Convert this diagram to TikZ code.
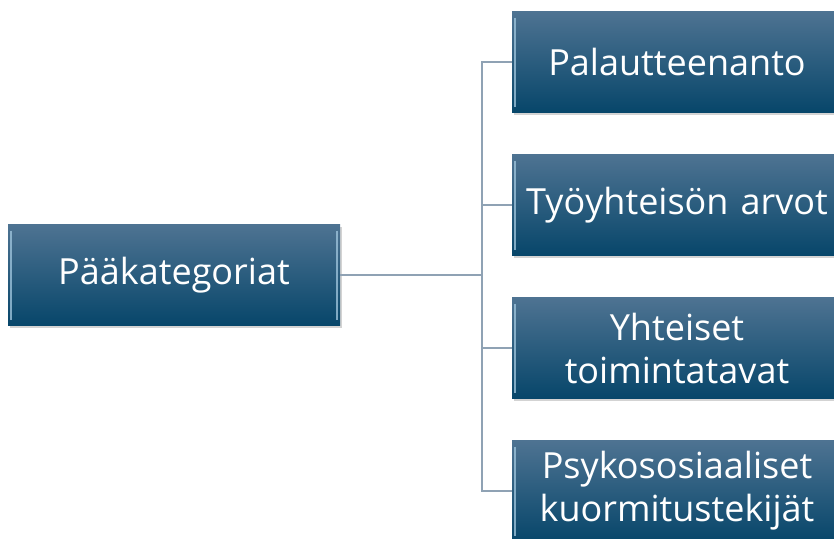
\documentclass[tikz,border=0pt]{standalone}
\usepackage{fontspec}
\setmainfont{Open Sans}
\usepackage{xcolor}
\usetikzlibrary{positioning, shadows}

\definecolor{boxtop}{HTML}{4E7392}
\definecolor{boxbot}{HTML}{07466A}
\definecolor{linkcol}{HTML}{8FA2B4}
\definecolor{edgelite}{HTML}{9CC2DA}

\begin{document}
\begin{tikzpicture}[x=1pt, y=-1pt,
    catbox/.style={minimum height=101pt, inner sep=0pt, align=center,
                   text=white, font=\fontsize{36}{43}\selectfont,
                   top color=boxtop, bottom color=boxbot, draw=none,
                   drop shadow={shadow xshift=1.5pt, shadow yshift=-2pt, opacity=.35},
                   path picture={
                     \draw[edgelite, line width=1.4pt, opacity=.8]
                       ([xshift=3pt,yshift=-6pt]path picture bounding box.north west) --
                       ([xshift=3pt,yshift=6pt]path picture bounding box.south west);
                     \draw[edgelite, line width=1.4pt, opacity=.8]
                       ([xshift=-3pt,yshift=-6pt]path picture bounding box.north east) --
                       ([xshift=-3pt,yshift=6pt]path picture bounding box.south east);}},
    subbox/.style={catbox, minimum width=330pt, text width=326pt},
    link/.style={draw=linkcol, line width=1.4pt}]
\useasboundingbox (0,0) rectangle (834,538);
\clip (0,0) rectangle (834,538);

% main category
\node[catbox, minimum width=332pt] (main) at (174,275) {Pääkategoriat};

% sub categories
\node[subbox] (pal) at (677,62) {Palautteenanto};
\node[subbox] (arv) at (677,205) {Työyhteisön arvot};
\node[subbox] (tap) at (677,348) {Yhteiset\\toimintatavat};
\node[subbox] (psy) at (677,491) {Psykososiaaliset\\kuormitustekijät};

\coordinate (fork) at (482,275);
\draw[link] (main.east) -- (fork);
\foreach \n in {pal, arv, tap, psy}
  \draw[link] (fork) |- (\n.west);
\end{tikzpicture}
\end{document}
